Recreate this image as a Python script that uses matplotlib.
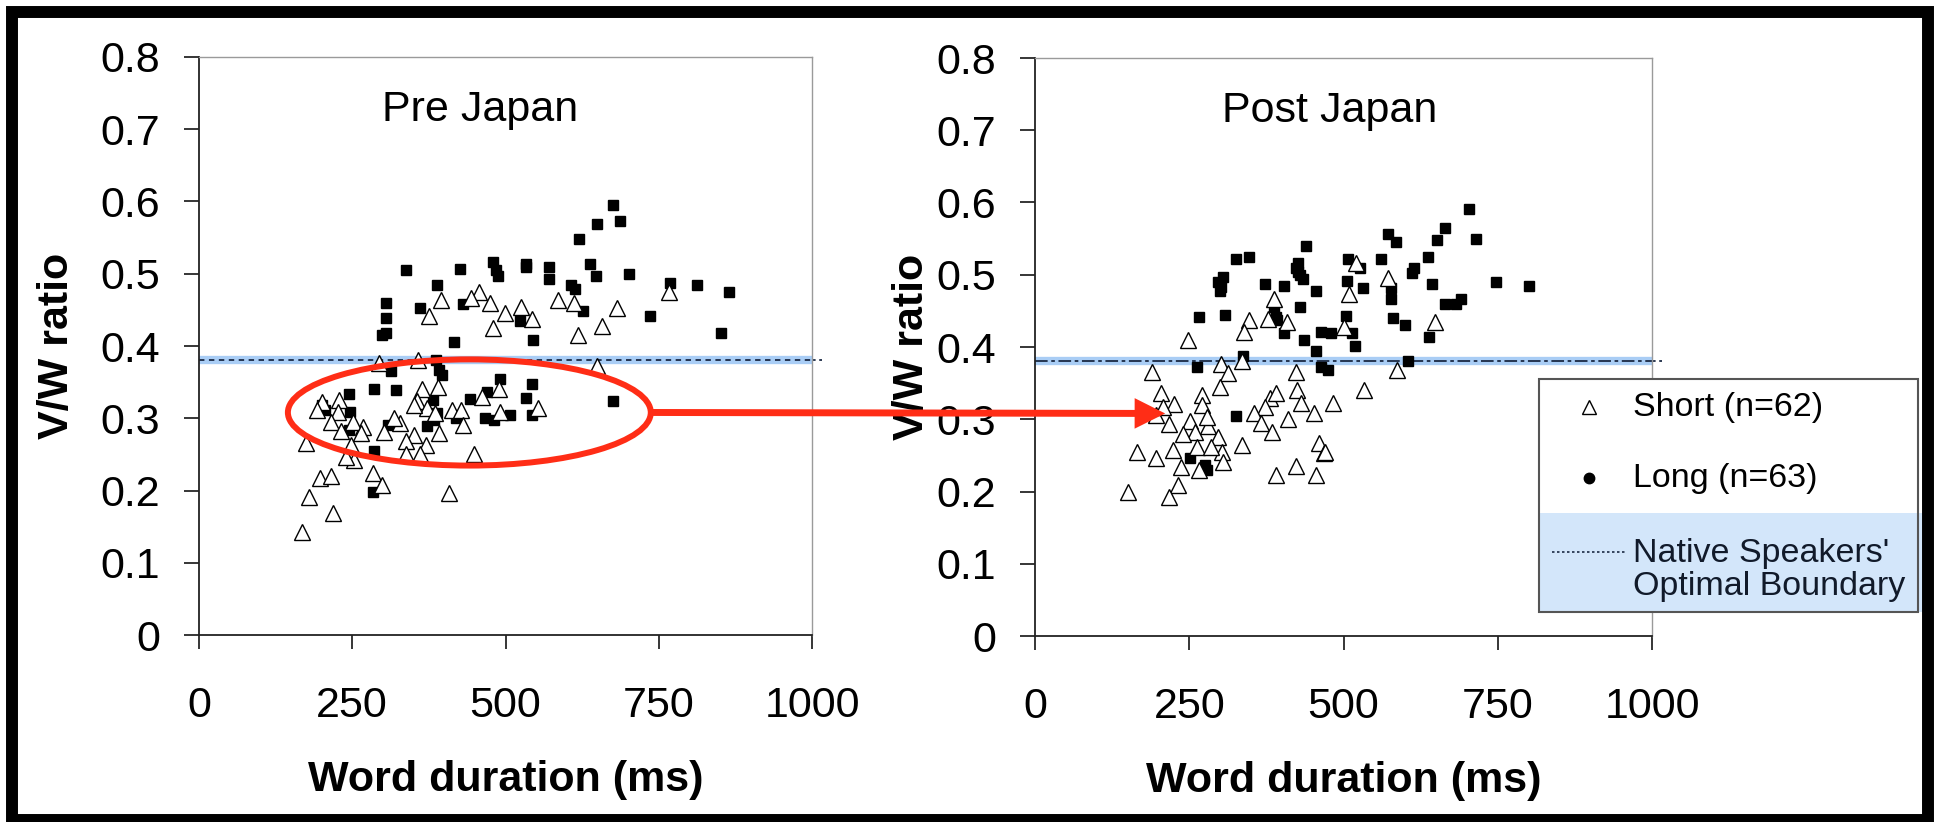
import matplotlib
matplotlib.use('Agg')
import matplotlib.pyplot as plt
from matplotlib.patches import Ellipse, Rectangle
from matplotlib.lines import Line2D
import matplotlib.transforms as mtransforms

# ---- data ----
pre_short_x = [766, 457, 443, 394, 475, 499, 525, 543, 480, 375, 586, 611, 682, 658, 619,
               294, 357, 649, 364, 390, 355, 372, 489, 462, 553, 413, 428, 491, 430, 200,
               193, 228, 226, 215, 268, 252, 232, 328, 302, 350, 392, 338, 370, 248, 174,
               337, 361, 448, 253, 240, 284, 298, 197, 215, 180, 408, 218, 168, 351, 385,
               265, 318]
pre_short_y = [0.475, 0.475, 0.466, 0.463, 0.460, 0.446, 0.454, 0.437, 0.425, 0.441, 0.464, 0.459,
               0.452, 0.428, 0.415, 0.377, 0.381, 0.373, 0.341, 0.343, 0.324, 0.314, 0.340, 0.330,
               0.314, 0.311, 0.312, 0.309, 0.291, 0.322, 0.311, 0.325, 0.309, 0.295, 0.288, 0.295,
               0.283, 0.293, 0.281, 0.277, 0.280, 0.268, 0.263, 0.263, 0.266, 0.251, 0.251, 0.251,
               0.242, 0.246, 0.224, 0.208, 0.217, 0.220, 0.191, 0.197, 0.169, 0.143, 0.318, 0.307,
               0.280, 0.300]
pre_long_x = [675, 650, 686, 620, 337, 425, 479, 485, 487, 533, 533, 571, 571, 638, 647, 701,
              607, 614, 389, 305, 305, 305, 298, 361, 431, 627, 523, 416, 545, 769, 813, 865,
              735, 852, 675, 387, 314, 391, 396, 286, 322, 245, 491, 470, 543, 442, 533, 381,
              200, 205, 247, 388, 508, 543, 420, 466, 482, 383, 372, 308, 245, 286, 284]
pre_long_y = [0.595, 0.569, 0.573, 0.548, 0.505, 0.507, 0.516, 0.505, 0.497, 0.514, 0.509, 0.510,
              0.493, 0.514, 0.497, 0.500, 0.485, 0.479, 0.485, 0.459, 0.439, 0.418, 0.415, 0.452,
              0.458, 0.449, 0.434, 0.406, 0.408, 0.487, 0.484, 0.475, 0.442, 0.418, 0.324, 0.381,
              0.366, 0.367, 0.360, 0.341, 0.339, 0.334, 0.354, 0.337, 0.347, 0.327, 0.328, 0.325,
              0.318, 0.312, 0.308, 0.307, 0.305, 0.305, 0.301, 0.301, 0.297, 0.298, 0.289, 0.291,
              0.284, 0.254, 0.198]

post_short_x = [520, 572, 509, 387, 347, 377, 408, 338, 500, 648, 248, 189, 301, 312, 335, 423,
                587, 533, 204, 226, 271, 271, 196, 217, 252, 280, 260, 297, 381, 390, 373, 425,
                431, 452, 483, 355, 366, 384, 336, 165, 196, 224, 262, 237, 303, 305, 461, 468,
                390, 423, 455, 150, 232, 217, 265, 286, 207, 278, 240, 410, 470, 300]
post_short_y = [0.516, 0.495, 0.474, 0.467, 0.437, 0.439, 0.435, 0.421, 0.428, 0.435, 0.410, 0.366,
                0.377, 0.364, 0.380, 0.366, 0.368, 0.340, 0.336, 0.321, 0.333, 0.320, 0.306, 0.294,
                0.297, 0.290, 0.283, 0.276, 0.329, 0.336, 0.317, 0.340, 0.322, 0.308, 0.323, 0.308,
                0.295, 0.282, 0.265, 0.254, 0.246, 0.257, 0.262, 0.234, 0.254, 0.241, 0.267, 0.253,
                0.223, 0.235, 0.223, 0.200, 0.209, 0.193, 0.230, 0.262, 0.317, 0.303, 0.280, 0.300,
                0.255, 0.345]
post_long_x = [704, 664, 714, 652, 572, 585, 440, 325, 347, 508, 526, 427, 427, 434, 561, 637,
               615, 611, 305, 302, 373, 404, 456, 505, 531, 577, 577, 644, 747, 800, 691, 683,
               265, 308, 388, 430, 392, 504, 581, 600, 404, 464, 479, 513, 436, 518, 639, 456,
               337, 464, 475, 604, 263, 325, 252, 278, 275, 297, 423, 390, 300, 430, 665]
post_long_y = [0.591, 0.565, 0.550, 0.548, 0.556, 0.545, 0.540, 0.522, 0.524, 0.522, 0.509, 0.516,
               0.504, 0.494, 0.522, 0.524, 0.510, 0.503, 0.497, 0.483, 0.487, 0.484, 0.477, 0.492,
               0.481, 0.481, 0.467, 0.487, 0.490, 0.484, 0.466, 0.460, 0.442, 0.444, 0.456, 0.456,
               0.437, 0.443, 0.440, 0.431, 0.419, 0.421, 0.419, 0.419, 0.409, 0.401, 0.414, 0.394,
               0.388, 0.372, 0.368, 0.380, 0.372, 0.305, 0.247, 0.230, 0.237, 0.490, 0.509, 0.442,
               0.478, 0.500, 0.460]

boundary = 0.38
x_ticks = [0, 250, 500, 750, 1000]
y_ticks = [0, 0.1, 0.2, 0.3, 0.4, 0.5, 0.6, 0.7, 0.8]
y_ticklabels = ['0', '0.1', '0.2', '0.3', '0.4', '0.5', '0.6', '0.7', '0.8']
titles = ['Pre Japan', 'Post Japan']
legend_labels = ['Short (n=62)', 'Long (n=63)', "Native Speakers'\nOptimal Boundary"]

# highlighted cluster in the pre panel (centre, width, height)
ring_x, ring_y, ring_w, ring_h = 441, 0.308, 592, 0.147

W, H = 1934, 822
plt.rcParams['font.family'] = ['Liberation Sans', 'DejaVu Sans']
fig = plt.figure(figsize=(W / 100, H / 100), dpi=100)
fig.patch.set_facecolor('white')

RED = '#ff2d16'
BAND = '#a9cdf5'
NAVY = '#1b2a44'


def px_rect(x0, y0, x1, y1):
    # axes rect from pixel box (top-left origin)
    return [x0 / W, 1 - y1 / H, (x1 - x0) / W, (y1 - y0) / H]


ax1 = fig.add_axes(px_rect(199, 57, 812, 635))
ax2 = fig.add_axes(px_rect(1035, 58, 1652, 636))

panels = [(ax1, pre_short_x, pre_short_y, pre_long_x, pre_long_y, (3, 2.5), 0.458, -0.232),
          (ax2, post_short_x, post_short_y, post_long_x, post_long_y, (7, 2, 2, 2), 0.477, -0.199)]

for i, (ax, sx, sy, lx, ly, dash, tx, ylx) in enumerate(panels):
    ax.axhline(boundary, color=BAND, lw=6, zorder=1)
    ax.plot([0, 1], [boundary, boundary], transform=ax.get_yaxis_transform(),
            color=NAVY, lw=1.3, dashes=dash, zorder=2)
    ax.plot([1, 1.016], [boundary, boundary], transform=ax.get_yaxis_transform(),
            color=NAVY, lw=1.3, dashes=(2, 2), zorder=2, clip_on=False)
    ax.plot(lx, ly, ls='none', marker='s', ms=6.8, mfc='black', mec='black', zorder=3)
    ax.plot(sx, sy, ls='none', marker='^', ms=11.5, mfc='white', mec='black', mew=1.0, zorder=4)

    ax.set_xlim(0, 1000)
    ax.set_ylim(0, 0.8)
    ax.set_xticks(x_ticks)
    ax.set_yticks(y_ticks)
    ax.set_yticklabels(y_ticklabels)
    ax.tick_params(axis='y', direction='out', length=11, width=1.1, pad=17, labelsize=31)
    ax.tick_params(axis='x', direction='out', length=10, width=1.1, pad=27, labelsize=31)
    for s in ['left', 'bottom']:
        ax.spines[s].set_color('#222222')
        ax.spines[s].set_linewidth(1.3)
    for s in ['top', 'right']:
        ax.spines[s].set_color('#9a9a9a')
        ax.spines[s].set_linewidth(1.0)

    ax.set_xlabel('Word duration (ms)', fontsize=31, fontweight='bold', va='center')
    ax.xaxis.set_label_coords(0.5, -0.25)
    ax.set_ylabel('V/W ratio', fontsize=31, fontweight='bold', va='center')
    ax.yaxis.set_label_coords(ylx, 0.5)
    ax.text(tx, 0.908, titles[i], transform=ax.transAxes, fontsize=31,
            ha='center', va='center')

# red ring around the short-duration cluster and arrow to the post panel
ax1.add_patch(Ellipse((ring_x, ring_y), ring_w, ring_h, fill=False, ec=RED, lw=4.3, zorder=5))
ax2.annotate('', xy=(211, ring_y), xycoords='data',
             xytext=(ring_x + ring_w / 2, ring_y), textcoords=ax1.transData,
             arrowprops=dict(arrowstyle='simple,head_length=2.2,head_width=2.2,tail_width=0.5',
                             fc=RED, ec='none', lw=0, shrinkA=0, shrinkB=0, mutation_scale=10),
             zorder=6)

# overlay in pixel units for frame and legend box
ov = fig.add_axes([0, 0, 1, 1], zorder=10)
ov.set_xlim(0, W)
ov.set_ylim(H, 0)
ov.axis('off')
ov.patch.set_alpha(0)

# legend
ov.add_patch(Rectangle((1539, 379), 379, 233, fc='white', ec='none'))
ov.add_patch(Rectangle((1539, 513), 387, 99, fc='#d3e6fa', ec='none'))
ov.add_patch(Rectangle((1539, 379), 379, 233, fill=False, ec='#555555', lw=1.5))
ov.add_line(Line2D([1589], [407], marker='^', ms=10, mfc='white', mec='black', mew=1.0))
ov.add_line(Line2D([1589], [478], marker='o', ms=7.5, mfc='black', mec='black'))
ov.add_line(Line2D([1552, 1625], [552, 552], color=NAVY, lw=1.2, dashes=(1.5, 1.5)))
ov.text(1633, 407, legend_labels[0], fontsize=24.5, va='center', ha='left')
ov.text(1633, 478, legend_labels[1], fontsize=24.5, va='center', ha='left')
ov.text(1633, 570, legend_labels[2], fontsize=24.5, va='center', ha='left',
        color='#111a2a', linespacing=1.05)

# black frame around the slide
ov.add_patch(Rectangle((12, 12), 1916, 808, fill=False, ec='black', lw=8.6))

fig.savefig('out.png', dpi=100)
